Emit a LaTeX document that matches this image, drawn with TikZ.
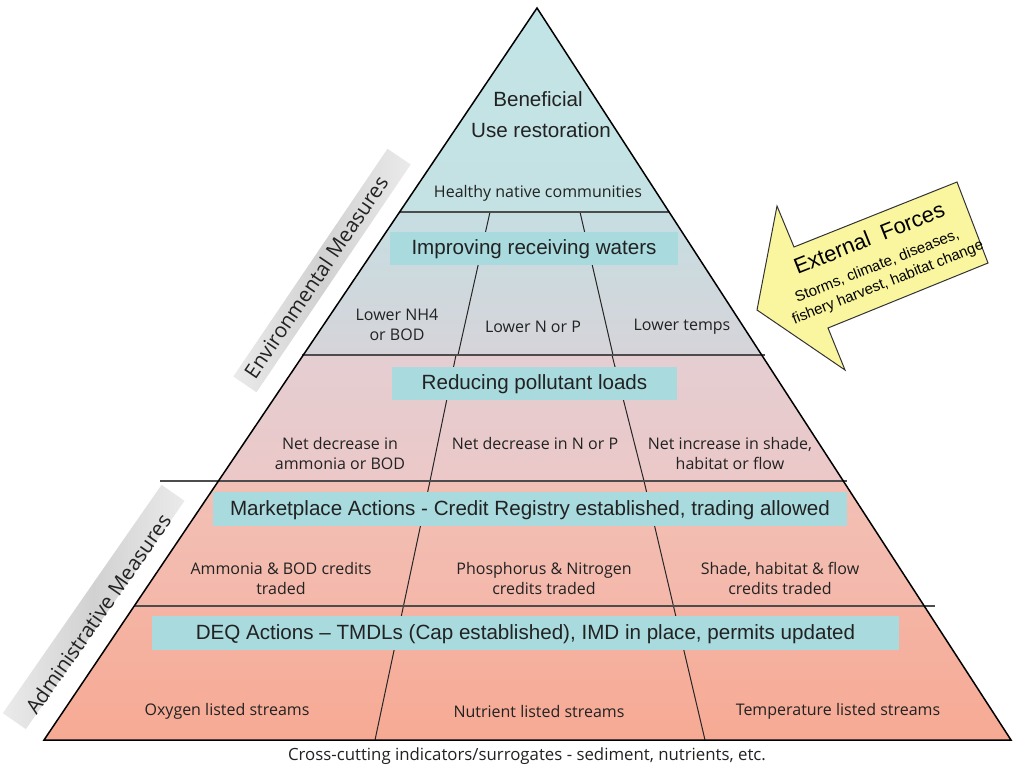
\documentclass[tikz,border=0pt]{standalone}
\usepackage{fontspec}
\setmainfont{Liberation Sans}
\newfontfamily\comic{Open Sans}
\definecolor{zAtop}{RGB}{194,228,230}
\definecolor{zAbot}{RGB}{196,226,228}
\definecolor{zBtop}{RGB}{198,222,226}
\definecolor{zBbot}{RGB}{214,212,217}
\definecolor{zCtop}{RGB}{228,206,210}
\definecolor{zCbot}{RGB}{236,200,200}
\definecolor{zDtop}{RGB}{242,192,182}
\definecolor{zDbot}{RGB}{244,184,170}
\definecolor{zEtop}{RGB}{245,180,164}
\definecolor{zEbot}{RGB}{246,170,148}
\definecolor{boxcyan}{RGB}{168,218,222}
\definecolor{arrowyel}{RGB}{250,246,160}
\definecolor{ink}{RGB}{34,34,34}
\begin{document}
\begin{tikzpicture}[x=1pt,y=-1pt,
  title/.style={font=\fontsize{20.6}{24}\selectfont, text=ink, inner sep=0pt},
  lab/.style={font=\comic\fontsize{16}{20}\selectfont, align=center, text=ink, inner sep=0pt},
  divider/.style={draw=black!85, line width=1pt},
  hline/.style={draw=black!70, line width=1.8pt},
  tbox/.style={fill=boxcyan, draw=none, inner sep=0pt},
  band/.style={draw=none, inner sep=0pt, left color=black!8, right color=black!8, middle color=black!18},
  bandtext/.style={font=\comic\fontsize{20.6}{24}\selectfont, text=ink, inner sep=0pt}]
\useasboundingbox (0,0) rectangle (1014,768);
\fill[white] (0,0) rectangle (1014,768);

% pyramid corners and level points
\coordinate (apex) at (537,8);
\coordinate (bl) at (44,740);
\coordinate (br) at (1011,740);
\coordinate (l1) at (399.6,212); \coordinate (r1) at (669.1,212);
\coordinate (l2) at (303.3,355); \coordinate (r2) at (761.7,355);
\coordinate (l3) at (218.4,481); \coordinate (r3) at (843.3,481);
\coordinate (l4) at (134.2,606); \coordinate (r4) at (924.2,606);

% zone fills
\shade[top color=zAtop, bottom color=zAbot] (apex) -- (r1) -- (l1) -- cycle;
\shade[top color=zBtop, bottom color=zBbot] (l1) -- (r1) -- (r2) -- (l2) -- cycle;
\shade[top color=zCtop, bottom color=zCbot] (l2) -- (r2) -- (r3) -- (l3) -- cycle;
\shade[top color=zDtop, bottom color=zDbot] (l3) -- (r3) -- (r4) -- (l4) -- cycle;
\shade[top color=zEtop, bottom color=zEbot] (l4) -- (r4) -- (br) -- (bl) -- cycle;

% dividers
\coordinate (a1) at (490,212); \coordinate (a2) at (458,355);
\coordinate (b1) at (580,212); \coordinate (b2) at (613,355);
\coordinate (a3) at (456,355); \coordinate (a4) at (430,481);
\coordinate (b3) at (612,355); \coordinate (b4) at (644,481);
\coordinate (a5) at (375,740); \coordinate (b5) at (705,740);
\draw[divider] (a1) -- (a2);
\draw[divider] (b1) -- (b2);
\draw[divider] (a3) -- (a4) -- (a5);
\draw[divider] (b3) -- (b4) -- (b5);

% horizontal level lines
\coordinate (h1a) at (400,212); \coordinate (h1b) at (669,212);
\coordinate (h2a) at (302,355); \coordinate (h2b) at (765,355);
\coordinate (h3a) at (160,481); \coordinate (h3b) at (847,481);
\coordinate (h4a) at (134,606); \coordinate (h4b) at (935,606);
\draw[hline] (h1a) -- (h1b);
\draw[hline] (h2a) -- (h2b);
\draw[hline] (h3a) -- (h3b);
\draw[hline] (h4a) -- (h4b);

% pyramid outline
\draw[black, line width=1.5pt, line join=miter] (apex) -- (br) -- (bl) -- cycle;

% title boxes
\node[tbox, minimum width=288, minimum height=33] (imp) at (534,248.5) {};
\node[title] (impt) at (534,249) {Improving receiving waters};
\node[tbox, minimum width=285, minimum height=33] (red) at (534.5,383.5) {};
\node[title] (redt) at (534.5,384) {Reducing pollutant loads};
\node[tbox, minimum width=634, minimum height=34] (mkt) at (530,509) {};
\node[title] (mktt) at (530,510) {Marketplace Actions - Credit Registry established, trading allowed};
\node[tbox, minimum width=747, minimum height=34] (deq) at (525.5,633) {};
\node[title] (deqt) at (525.5,634) {DEQ Actions -- TMDLs (Cap established), IMD in place, permits updated};

% top texts
\node[title] (ben) at (538,99) {Beneficial};
\node[title] (use) at (541,130) {Use restoration};
\node[lab] (hnc) at (538,193) {Healthy native communities};

% level 2 labels
\node[lab] (nh4) at (397,325) {Lower NH4\\or BOD};
\node[lab] (lnp) at (533,327) {Lower N or P};
\node[lab] (ltp) at (682,327) {Lower temps};

% level 3 labels
\node[lab] (nda) at (340,453) {Net decrease in\\ammonia or BOD};
\node[lab] (ndn) at (535,443) {Net decrease in N or P};
\node[lab] (nis) at (730,453) {Net increase in shade,\\habitat or flow};

% level 4 labels
\node[lab] (abc) at (281,578) {Ammonia \& BOD credits\\traded};
\node[lab] (pnc) at (544,578) {Phosphorus \& Nitrogen\\credits traded};
\node[lab] (shf) at (780,578) {Shade, habitat \& flow\\credits traded};

% level 5 labels
\node[lab] (oxy) at (227,711) {Oxygen listed streams};
\node[lab] (nut) at (539,711) {Nutrient listed streams};
\node[lab] (tem) at (838,711) {Temperature listed streams};

% bottom caption
\node[lab, font=\comic\fontsize{16.8}{20}\selectfont] (cross) at (527,756) {Cross-cutting indicators/surrogates - sediment, nutrients, etc.};

% side bands
\node[band, rotate=55.9, minimum width=275, minimum height=28] (envband) at (322,270.5) {};
\node[bandtext, rotate=55.9] (envtext) at (316,277) {Environmental Measures};
\node[band, rotate=55.2, minimum width=278, minimum height=28] (admband) at (93.7,607) {};
\node[bandtext, rotate=55.2] (admtext) at (98,614) {Administrative Measures};

% external forces arrow
\coordinate (tip) at (757,310);
\coordinate (ub) at (777,206);
\coordinate (u1) at (794,247);
\coordinate (u2) at (957,182);
\coordinate (d2) at (988,263);
\coordinate (d1) at (828,328);
\coordinate (db) at (845,370);
\draw[fill=arrowyel, draw=black!80, line width=1pt, line join=miter] (tip) -- (ub) -- (u1) -- (u2) -- (d2) -- (d1) -- (db) -- cycle;
\node[font=\fontsize{22}{26}\selectfont, rotate=21.7, inner sep=0pt] (ext) at (869,238) {External\ \ Forces};
\node[font=\fontsize{15}{18}\selectfont, rotate=21.7, inner sep=0pt] (ext2) at (877,266) {Storms, climate, diseases,};
\node[font=\fontsize{15}{18}\selectfont, rotate=21.7, inner sep=0pt] (ext3) at (888,283) {fishery harvest, habitat change};
\end{tikzpicture}
\end{document}
